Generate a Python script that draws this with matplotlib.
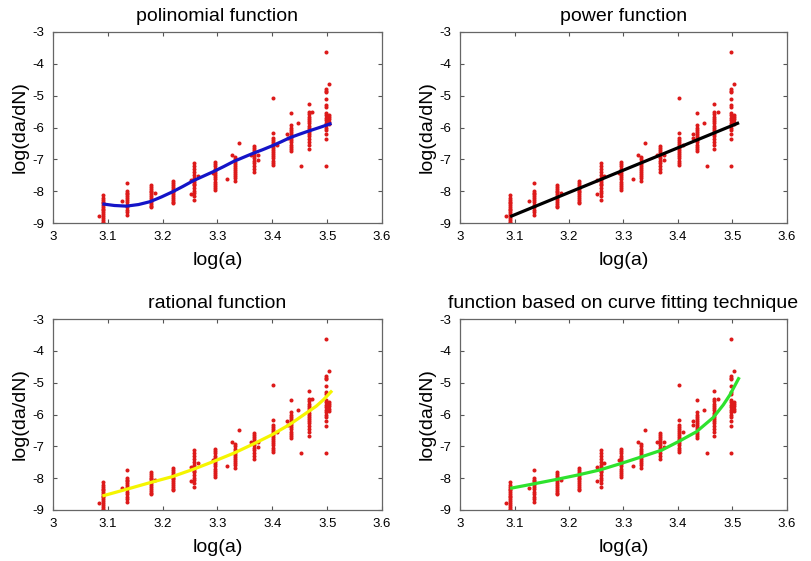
import matplotlib
matplotlib.use("Agg")
import matplotlib.pyplot as plt
import numpy as np

plt.rcParams['font.family'] = ['Liberation Sans', 'DejaVu Sans']

# measured crack growth points, one column per crack length (log(a))
col_x = [3.092, 3.135, 3.178, 3.219, 3.258, 3.296, 3.332, 3.367, 3.401, 3.434, 3.466, 3.497]
col_y = [
    [-8.12, -8.2, -8.27, -8.33, -8.38, -8.44, -8.5, -8.55, -8.6, -8.66, -8.72, -8.78, -8.84, -8.9, -8.96, -9.0],
    [-7.74, -7.99, -8.05, -8.1, -8.16, -8.22, -8.28, -8.35, -8.42, -8.5, -8.58, -8.65, -8.76],
    [-7.8, -7.86, -7.92, -7.98, -8.04, -8.1, -8.16, -8.22, -8.28, -8.34, -8.4, -8.46, -8.5],
    [-7.67, -7.73, -7.8, -7.86, -7.92, -7.98, -8.04, -8.1, -8.16, -8.22, -8.28, -8.34, -8.38],
    [-7.1, -7.2, -7.3, -7.4, -7.5, -7.58, -7.64, -7.7, -7.76, -7.82, -7.9, -7.98, -8.06, -8.14, -8.27],
    [-7.08, -7.15, -7.22, -7.3, -7.37, -7.44, -7.5, -7.57, -7.63, -7.7, -7.77, -7.84, -7.9, -7.97],
    [-6.92, -7.0, -7.07, -7.14, -7.2, -7.27, -7.33, -7.4, -7.46, -7.53, -7.6, -7.68],
    [-6.57, -6.64, -6.7, -6.77, -6.83, -6.9, -6.97, -7.04, -7.12, -7.2, -7.3, -7.4],
    [-5.08, -6.16, -6.33, -6.4, -6.46, -6.52, -6.58, -6.64, -6.7, -6.77, -6.84, -6.9, -6.97, -7.04, -7.1, -7.18],
    [-5.55, -5.93, -6.0, -6.07, -6.14, -6.2, -6.27, -6.34, -6.4, -6.47, -6.54, -6.6, -6.67, -6.74],
    [-5.27, -5.52, -5.58, -5.66, -5.73, -5.8, -5.87, -5.94, -6.0, -6.07, -6.13, -6.2, -6.28, -6.36, -6.45, -6.55, -6.66],
    [-3.64, -4.78, -4.84, -4.9, -5.1, -5.3, -5.36, -5.55, -5.62, -5.7, -5.78, -5.85, -5.93, -6.0, -6.07, -6.2, -6.37, -7.21],
]
# scattered points off the main columns
extra_x = [3.084, 3.126, 3.186, 3.251, 3.264, 3.252, 3.318, 3.291, 3.326, 3.340, 3.361, 3.374, 3.374,
           3.409, 3.427, 3.428, 3.453, 3.447, 3.473, 3.503, 3.503, 3.503, 3.503, 3.503, 3.503]
extra_y = [-8.78, -8.32, -8.05, -8.08, -7.52, -7.66, -7.63, -7.42, -6.87, -6.49, -6.85, -7.02, -6.86,
           -6.56, -6.2, -6.32, -7.2, -5.87, -5.52, -4.63, -5.6, -5.66, -5.74, -5.82, -5.9]

# fitted curves
poly_x = [3.090, 3.112, 3.134, 3.156, 3.177, 3.198, 3.218, 3.237, 3.256, 3.274, 3.292, 3.311, 3.329,
          3.347, 3.365, 3.382, 3.399, 3.416, 3.432, 3.448, 3.463, 3.486, 3.508]
poly_y = [-8.40, -8.45, -8.47, -8.42, -8.33, -8.18, -8.02, -7.85, -7.67, -7.53, -7.39, -7.23, -7.07,
          -6.94, -6.81, -6.70, -6.58, -6.45, -6.32, -6.22, -6.13, -6.00, -5.87]
pow_x = [3.092, 3.512]
pow_y = [-8.80, -5.85]
rat_x = [3.090, 3.134, 3.177, 3.218, 3.256, 3.292, 3.329, 3.365, 3.399, 3.432, 3.463, 3.480, 3.493, 3.509]
rat_y = [-8.56, -8.35, -8.14, -7.95, -7.72, -7.48, -7.22, -6.93, -6.64, -6.31, -5.94, -5.74, -5.54, -5.25]
fit_x = [3.092, 3.135, 3.177, 3.219, 3.257, 3.297, 3.333, 3.370, 3.401, 3.434, 3.465, 3.483, 3.495, 3.505, 3.5125]
fit_y = [-8.32, -8.18, -8.04, -7.89, -7.74, -7.53, -7.33, -7.12, -6.85, -6.54, -6.09, -5.70, -5.39, -5.07, -4.83]

titles = ["polinomial function", "power function", "rational function",
          "function based on curve fitting technique"]
curves = [(poly_x, poly_y, "#1414c8"), (pow_x, pow_y, "black"),
          (rat_x, rat_y, "#f5f500"), (fit_x, fit_y, "#2ee22e")]

fig = plt.figure(figsize=(8.11, 5.61), dpi=100)
W, H = 811, 561
boxes = [(53, 32, 329, 191), (460, 32, 327, 191), (53, 319, 329, 191), (460, 319, 327, 191)]

pts_x = np.concatenate([np.full(len(ys), x) for x, ys in zip(col_x, col_y)] + [np.array(extra_x)])
pts_y = np.concatenate([np.array(ys) for ys in col_y] + [np.array(extra_y)])

for (l, t, w, h), title, (cx, cy, cc) in zip(boxes, titles, curves):
    ax = fig.add_axes([l / W, 1 - (t + h) / H, w / W, h / H])
    ax.plot(pts_x, pts_y, 'o', color="#dd1a1a", markersize=2.9, markeredgewidth=0, zorder=2)
    ax.plot(cx, cy, color=cc, lw=2.3, zorder=3, solid_capstyle='butt')
    ax.set_xlim(3, 3.6)
    ax.set_ylim(-9, -3)
    ax.set_xticks([3, 3.1, 3.2, 3.3, 3.4, 3.5, 3.6])
    ax.set_xticklabels(["3", "3.1", "3.2", "3.3", "3.4", "3.5", "3.6"])
    ax.set_yticks([-9, -8, -7, -6, -5, -4, -3])
    ax.set_yticklabels(["-9", "-8", "-7", "-6", "-5", "-4", "-3"])
    ax.tick_params(direction='in', length=3, width=0.8, top=True, right=True,
                   labelsize=9.5, color="#555555", pad=6)
    for s in ax.spines.values():
        s.set_color("#666666")
        s.set_linewidth(0.9)
    ax.set_xlabel("log(a)", fontsize=14, labelpad=6)
    ax.set_ylabel("log(da/dN)", fontsize=14, labelpad=3)
    ax.set_title(title, fontsize=14, pad=8)

plt.savefig("out.png", dpi=100)
